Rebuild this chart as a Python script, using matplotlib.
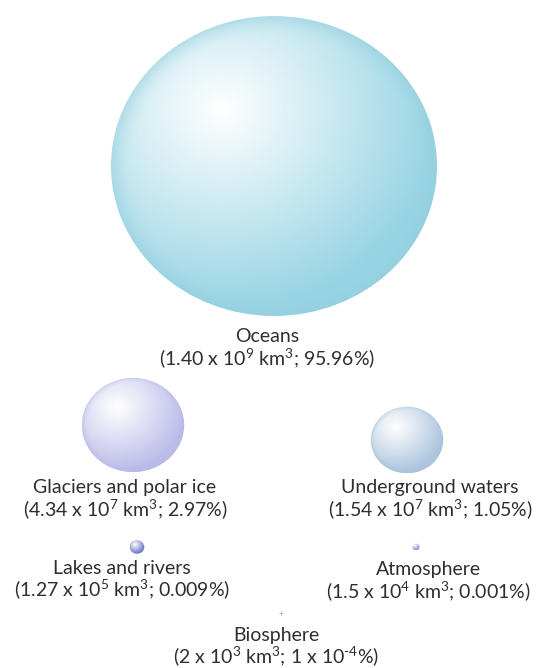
import numpy as np
import matplotlib
matplotlib.use("Agg")
import matplotlib.pyplot as plt
from matplotlib.patches import Ellipse
from matplotlib.colors import to_rgb

# ---- data ----
categories = ["Oceans", "Glaciers and polar ice", "Underground waters",
              "Lakes and rivers", "Atmosphere", "Biosphere"]
volume_mantissa = [1.40, 4.34, 1.54, 1.27, 1.5, 2]
volume_mantissa_text = ["1.40", "4.34", "1.54", "1.27", "1.5", "2"]
volume_exponent = [9, 7, 7, 5, 4, 3]
percent_text = ["95.96%", "2.97%", "1.05%", "0.009%", "0.001%",
                r"1 x 10$^{\text{-}4}$%"]
colors = ["#97d4e4", "#bcbcea", "#adc5de", "#6a74c4", "#8c94cc", "#b0b0b0"]

volumes = [m * 10.0 ** e for m, e in zip(volume_mantissa, volume_exponent)]

# ---- layout (pixels) ----
W, H = 541, 668
centers = [(274, 166), (133, 425), (407, 440), (137, 547), (416, 547), (281, 613)]
label_pos = [(267, 337), (125, 488), (430, 488), (122, 568), (428, 570), (276, 635)]
R_MAX = 163          # radius of the largest sphere in pixels
YSCALE = 0.92        # vertical squash of the original artwork
LINE = 21
FS = 14

plt.rcParams["mathtext.fontset"] = "custom"
plt.rcParams["mathtext.rm"] = "Lato"
plt.rcParams["mathtext.it"] = "Lato"
plt.rcParams["mathtext.bf"] = "Lato"

fig = plt.figure(figsize=(W / 100, H / 100), dpi=100)
ax = fig.add_axes([0, 0, 1, 1])
ax.set_xlim(0, W)
ax.set_ylim(H, 0)
ax.axis("off")

vmax = max(volumes)


def sphere(ax, cx, cy, r, base):
    rx, ry = r, r * YSCALE
    n = 200
    u = np.linspace(-1, 1, n)
    U, V = np.meshgrid(u, u)
    hx, hy = -0.32, -0.38
    dh = np.sqrt((U - hx) ** 2 + (V - hy) ** 2) / 1.35
    s = np.clip(dh, 0, 1) ** 1.0
    d = np.sqrt(U ** 2 + V ** 2)
    edge = np.clip((d - 0.85) / 0.15, 0, 1) ** 2
    b = np.array(to_rgb(base))
    dark = b * 0.97
    white = np.array([1.0, 1.0, 1.0])
    img = white[None, None, :] * (1 - s[..., None]) + b[None, None, :] * s[..., None]
    img = img * (1 - 0.5 * edge[..., None]) + dark[None, None, :] * (0.5 * edge[..., None])
    img = np.clip(img, 0, 1)
    im = ax.imshow(img, extent=(cx - rx, cx + rx, cy + ry, cy - ry),
                   origin="upper", interpolation="bilinear", zorder=2)
    el = Ellipse((cx, cy), 2 * rx, 2 * ry, transform=ax.transData,
                 facecolor="none", edgecolor="none")
    ax.add_patch(el)
    im.set_clip_path(el)


for i, cat in enumerate(categories):
    r = R_MAX * (volumes[i] / vmax) ** (1 / 3)
    cx, cy = centers[i]
    if r > 2.5:
        sphere(ax, cx, cy, r, colors[i])
    else:
        ax.plot([cx], [cy], marker="+", ms=3, mew=0.6, color=colors[i], zorder=2)
    lx, ly = label_pos[i]
    ax.text(lx, ly, cat, ha="center", va="center", fontsize=FS,
            family="Lato", color="#2e2e2e")
    line2 = (f"({volume_mantissa_text[i]} x 10$^{{{volume_exponent[i]}}}$ km$^{{3}}$; "
             f"{percent_text[i]})")
    ax.text(lx, ly + LINE, line2, ha="center", va="center", fontsize=FS,
            family="Lato", color="#2e2e2e")

fig.savefig("out.png", dpi=100, facecolor="white")
